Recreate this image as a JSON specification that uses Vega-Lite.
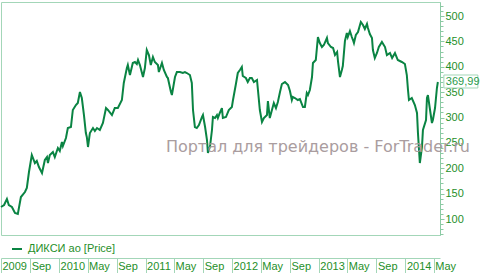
{
  "$schema": "https://vega.github.io/schema/vega-lite/v6.json",
  "width": 439,
  "height": 233,
  "autosize": {"type": "none"},
  "padding": {"left": 1, "top": 2, "right": 41, "bottom": 38},
  "background": "white",
  "config": {
    "view": {"stroke": "#a3d6b8", "strokeWidth": 1},
    "font": "Liberation Sans",
    "locale": {"number": {"decimal": ",", "thousands": " ", "grouping": [3], "currency": ["", " ₽"]}}
  },
  "datasets": {
    "prices": [
      {"date": "2009-05-01", "price": 123.6},
      {"date": "2009-05-14", "price": 127.6},
      {"date": "2009-05-26", "price": 139.4},
      {"date": "2009-06-03", "price": 127.6},
      {"date": "2009-06-16", "price": 123.6},
      {"date": "2009-06-29", "price": 111.8},
      {"date": "2009-07-11", "price": 109.9},
      {"date": "2009-07-24", "price": 143.3},
      {"date": "2009-08-10", "price": 153.2},
      {"date": "2009-08-18", "price": 161.1},
      {"date": "2009-08-27", "price": 192.6},
      {"date": "2009-09-08", "price": 226.1},
      {"date": "2009-09-21", "price": 210.3},
      {"date": "2009-09-29", "price": 214.3},
      {"date": "2009-10-08", "price": 202.5},
      {"date": "2009-10-21", "price": 190.6},
      {"date": "2009-11-02", "price": 216.3},
      {"date": "2009-11-11", "price": 222.2},
      {"date": "2009-11-15", "price": 210.3},
      {"date": "2009-11-23", "price": 226.1},
      {"date": "2009-12-06", "price": 232.0},
      {"date": "2009-12-14", "price": 222.2},
      {"date": "2009-12-27", "price": 239.9},
      {"date": "2010-01-04", "price": 234.0},
      {"date": "2010-01-13", "price": 251.7},
      {"date": "2010-01-17", "price": 243.8},
      {"date": "2010-01-30", "price": 259.6},
      {"date": "2010-02-07", "price": 279.3},
      {"date": "2010-02-20", "price": 281.3},
      {"date": "2010-02-28", "price": 314.8},
      {"date": "2010-03-13", "price": 324.6},
      {"date": "2010-03-21", "price": 328.6},
      {"date": "2010-03-30", "price": 350.2},
      {"date": "2010-04-07", "price": 338.4},
      {"date": "2010-04-16", "price": 304.9},
      {"date": "2010-04-24", "price": 269.5},
      {"date": "2010-04-28", "price": 261.6},
      {"date": "2010-05-03", "price": 241.9},
      {"date": "2010-05-11", "price": 269.5},
      {"date": "2010-05-24", "price": 279.3},
      {"date": "2010-06-01", "price": 273.4},
      {"date": "2010-06-10", "price": 279.3},
      {"date": "2010-06-22", "price": 275.4},
      {"date": "2010-07-05", "price": 289.2},
      {"date": "2010-07-18", "price": 318.7},
      {"date": "2010-07-26", "price": 314.8},
      {"date": "2010-08-12", "price": 304.9},
      {"date": "2010-08-24", "price": 318.7},
      {"date": "2010-09-06", "price": 318.7},
      {"date": "2010-09-23", "price": 334.5},
      {"date": "2010-10-01", "price": 368.0},
      {"date": "2010-10-14", "price": 397.5},
      {"date": "2010-10-18", "price": 403.4},
      {"date": "2010-10-27", "price": 383.7},
      {"date": "2010-11-08", "price": 407.4},
      {"date": "2010-11-17", "price": 409.4},
      {"date": "2010-11-25", "price": 405.4},
      {"date": "2010-11-30", "price": 413.3},
      {"date": "2010-12-08", "price": 403.4},
      {"date": "2010-12-21", "price": 379.8},
      {"date": "2010-12-29", "price": 397.5},
      {"date": "2011-01-06", "price": 433.0},
      {"date": "2011-01-15", "price": 423.1},
      {"date": "2011-01-23", "price": 403.4},
      {"date": "2011-02-01", "price": 419.2},
      {"date": "2011-02-09", "price": 409.4},
      {"date": "2011-02-22", "price": 403.4},
      {"date": "2011-02-26", "price": 389.6},
      {"date": "2011-03-11", "price": 407.4},
      {"date": "2011-03-19", "price": 393.6},
      {"date": "2011-04-01", "price": 379.8},
      {"date": "2011-04-05", "price": 377.8},
      {"date": "2011-04-18", "price": 350.2},
      {"date": "2011-04-22", "price": 344.3},
      {"date": "2011-05-05", "price": 379.8},
      {"date": "2011-05-13", "price": 389.6},
      {"date": "2011-05-26", "price": 389.6},
      {"date": "2011-06-07", "price": 387.7},
      {"date": "2011-06-16", "price": 389.6},
      {"date": "2011-06-24", "price": 387.7},
      {"date": "2011-07-07", "price": 383.7},
      {"date": "2011-07-15", "price": 368.0},
      {"date": "2011-07-20", "price": 314.8},
      {"date": "2011-07-28", "price": 281.3},
      {"date": "2011-08-05", "price": 279.3},
      {"date": "2011-08-14", "price": 285.2},
      {"date": "2011-08-27", "price": 301.0},
      {"date": "2011-08-31", "price": 304.9},
      {"date": "2011-09-09", "price": 281.3},
      {"date": "2011-09-17", "price": 255.7},
      {"date": "2011-09-21", "price": 230.0},
      {"date": "2011-09-30", "price": 243.8},
      {"date": "2011-10-08", "price": 275.4},
      {"date": "2011-10-12", "price": 301.0},
      {"date": "2011-10-21", "price": 299.0},
      {"date": "2011-10-29", "price": 304.9},
      {"date": "2011-11-02", "price": 299.0},
      {"date": "2011-11-10", "price": 308.9},
      {"date": "2011-11-19", "price": 318.7},
      {"date": "2011-11-23", "price": 299.0},
      {"date": "2011-12-06", "price": 301.0},
      {"date": "2011-12-18", "price": 314.8},
      {"date": "2011-12-31", "price": 320.7},
      {"date": "2012-01-04", "price": 332.5},
      {"date": "2012-01-17", "price": 366.0},
      {"date": "2012-01-25", "price": 387.7},
      {"date": "2012-02-03", "price": 393.6},
      {"date": "2012-02-11", "price": 399.5},
      {"date": "2012-02-15", "price": 381.8},
      {"date": "2012-02-28", "price": 377.8},
      {"date": "2012-03-07", "price": 369.9},
      {"date": "2012-03-16", "price": 377.8},
      {"date": "2012-03-24", "price": 377.8},
      {"date": "2012-04-02", "price": 369.9},
      {"date": "2012-04-15", "price": 373.9},
      {"date": "2012-04-19", "price": 354.2},
      {"date": "2012-04-27", "price": 314.8},
      {"date": "2012-05-06", "price": 291.1},
      {"date": "2012-05-14", "price": 299.0},
      {"date": "2012-05-27", "price": 304.9},
      {"date": "2012-05-31", "price": 332.5},
      {"date": "2012-06-08", "price": 299.0},
      {"date": "2012-06-17", "price": 314.8},
      {"date": "2012-06-25", "price": 328.6},
      {"date": "2012-07-04", "price": 318.7},
      {"date": "2012-07-12", "price": 330.5},
      {"date": "2012-07-21", "price": 350.2},
      {"date": "2012-07-29", "price": 366.0},
      {"date": "2012-08-11", "price": 369.9},
      {"date": "2012-08-24", "price": 364.0},
      {"date": "2012-09-01", "price": 352.2},
      {"date": "2012-09-09", "price": 334.5},
      {"date": "2012-09-13", "price": 340.4},
      {"date": "2012-09-22", "price": 338.4},
      {"date": "2012-10-04", "price": 334.5},
      {"date": "2012-10-13", "price": 336.4},
      {"date": "2012-10-26", "price": 320.7},
      {"date": "2012-11-03", "price": 320.7},
      {"date": "2012-11-11", "price": 348.3},
      {"date": "2012-11-16", "price": 344.3},
      {"date": "2012-11-24", "price": 354.2},
      {"date": "2012-12-03", "price": 379.8},
      {"date": "2012-12-07", "price": 407.4},
      {"date": "2012-12-19", "price": 413.3},
      {"date": "2012-12-28", "price": 458.6},
      {"date": "2013-01-05", "price": 446.8},
      {"date": "2013-01-14", "price": 438.9},
      {"date": "2013-01-22", "price": 442.8},
      {"date": "2013-02-04", "price": 456.7},
      {"date": "2013-02-08", "price": 446.8},
      {"date": "2013-02-21", "price": 438.9},
      {"date": "2013-03-02", "price": 436.9},
      {"date": "2013-03-10", "price": 423.1},
      {"date": "2013-03-19", "price": 429.1},
      {"date": "2013-03-23", "price": 409.4},
      {"date": "2013-03-31", "price": 379.8},
      {"date": "2013-04-08", "price": 393.6},
      {"date": "2013-04-12", "price": 401.5},
      {"date": "2013-04-21", "price": 450.7},
      {"date": "2013-04-29", "price": 466.5},
      {"date": "2013-05-03", "price": 458.6},
      {"date": "2013-05-12", "price": 470.4},
      {"date": "2013-05-20", "price": 458.6},
      {"date": "2013-05-25", "price": 452.7},
      {"date": "2013-05-29", "price": 446.8},
      {"date": "2013-06-06", "price": 462.6},
      {"date": "2013-06-15", "price": 468.5},
      {"date": "2013-06-27", "price": 488.2},
      {"date": "2013-07-06", "price": 482.3},
      {"date": "2013-07-14", "price": 474.4},
      {"date": "2013-07-23", "price": 484.2},
      {"date": "2013-07-27", "price": 476.4},
      {"date": "2013-08-04", "price": 464.5},
      {"date": "2013-08-13", "price": 456.7},
      {"date": "2013-08-17", "price": 433.0},
      {"date": "2013-08-25", "price": 417.2},
      {"date": "2013-09-03", "price": 427.1},
      {"date": "2013-09-11", "price": 438.9},
      {"date": "2013-09-24", "price": 448.8},
      {"date": "2013-10-07", "price": 438.9},
      {"date": "2013-10-15", "price": 423.1},
      {"date": "2013-10-28", "price": 427.1},
      {"date": "2013-11-06", "price": 417.2},
      {"date": "2013-11-18", "price": 427.1},
      {"date": "2013-11-30", "price": 413.3},
      {"date": "2013-12-17", "price": 409.4},
      {"date": "2013-12-30", "price": 405.4},
      {"date": "2014-01-07", "price": 383.7},
      {"date": "2014-01-12", "price": 354.2},
      {"date": "2014-01-16", "price": 334.5},
      {"date": "2014-01-28", "price": 338.4},
      {"date": "2014-02-10", "price": 324.6},
      {"date": "2014-02-19", "price": 308.9},
      {"date": "2014-02-23", "price": 269.5},
      {"date": "2014-03-03", "price": 210.3},
      {"date": "2014-03-12", "price": 241.9},
      {"date": "2014-03-16", "price": 275.4},
      {"date": "2014-03-29", "price": 295.1},
      {"date": "2014-04-02", "price": 338.4},
      {"date": "2014-04-06", "price": 344.3},
      {"date": "2014-04-15", "price": 314.8},
      {"date": "2014-04-23", "price": 289.2},
      {"date": "2014-04-27", "price": 295.1},
      {"date": "2014-05-06", "price": 318.7},
      {"date": "2014-05-14", "price": 358.1},
      {"date": "2014-05-18", "price": 369.99}
    ]
  },
  "data": {"name": "prices"},
  "encoding": {
    "x": {
      "field": "date",
      "type": "temporal",
      "title": null,
      "scale": {"domain": [{"year": 2009, "month": 5, "date": 1}, {"year": 2014, "month": 5, "date": 27}], "nice": false},
      "axis": {
        "orient": "bottom",
        "offset": 23,
        "values": [
          {"year": 2009, "month": 5, "date": 1}, {"year": 2009, "month": 9, "date": 1},
          {"year": 2010, "month": 1, "date": 1}, {"year": 2010, "month": 5, "date": 1}, {"year": 2010, "month": 9, "date": 1},
          {"year": 2011, "month": 1, "date": 1}, {"year": 2011, "month": 5, "date": 1}, {"year": 2011, "month": 9, "date": 1},
          {"year": 2012, "month": 1, "date": 1}, {"year": 2012, "month": 5, "date": 1}, {"year": 2012, "month": 9, "date": 1},
          {"year": 2013, "month": 1, "date": 1}, {"year": 2013, "month": 5, "date": 1}, {"year": 2013, "month": 9, "date": 1},
          {"year": 2014, "month": 1, "date": 1}, {"year": 2014, "month": 5, "date": 1}
        ],
        "labelExpr": "month(datum.value) === 0 || datum.value < datetime(2009, 4, 5) ? timeFormat(datum.value, '%Y') : timeFormat(datum.value, '%b')",
        "labelAlign": "left",
        "labelBaseline": "top",
        "labelPadding": -13,
        "labelOffset": 1,
        "labelFont": "Liberation Sans",
        "labelFontSize": 11,
        "labelColor": "#1f8f2a",
        "labelOverlap": false,
        "labelFlush": false,
        "tickSize": 15,
        "tickColor": "#a3d6b8",
        "domainColor": "#a3d6b8",
        "grid": false
      }
    },
    "y": {
      "field": "price",
      "type": "quantitative",
      "title": null,
      "scale": {"domain": [68.5, 527.6], "nice": false, "zero": false},
      "axis": {
        "orient": "right",
        "values": [70, 80, 90, 100, 110, 120, 130, 140, 150, 160, 170, 180, 190, 200, 210, 220, 230, 240, 250, 260, 270, 280, 290, 300, 310, 320, 330, 340, 350, 360, 370, 380, 390, 400, 410, 420, 430, 440, 450, 460, 470, 480, 490, 500, 510, 520],
        "labelExpr": "datum.value % 50 === 0 ? format(datum.value, 'd') : ''",
        "labelFont": "Liberation Sans",
        "labelFontSize": 11,
        "labelColor": "#1f8f2a",
        "labelPadding": 1,
        "labelOverlap": false,
        "tickSize": {"condition": {"test": "datum.value % 50 === 0", "value": 4}, "value": 3},
        "tickColor": "#8ccaa4",
        "domainColor": "#8ccaa4",
        "grid": false
      }
    }
  },
  "layer": [
    {
      "mark": {"type": "line", "strokeWidth": 2, "interpolate": "linear"},
      "encoding": {
        "color": {
          "datum": "ДИКСИ ао [Price]",
          "type": "nominal",
          "scale": {"range": ["#0a8443"]},
          "legend": {
            "orient": "none",
            "legendX": 10,
            "legendY": 241,
            "title": null,
            "padding": 0,
            "symbolType": "stroke",
            "symbolSize": 100,
            "symbolStrokeWidth": 2,
            "labelFont": "Liberation Sans",
            "labelFontSize": 11,
            "labelColor": "#1f8f2a",
            "labelOffset": 5
          }
        }
      }
    },
    {
      "transform": [{"filter": "datum.price === 369.99"}],
      "mark": {"type": "text", "text": "Портал для трейдеров - ForTrader.ru", "font": "DejaVu Sans", "fontSize": 16, "color": "#a6989a", "align": "center", "baseline": "middle", "opacity": 0.95},
      "encoding": {
        "x": {"datum": {"year": 2012, "month": 12, "date": 28}, "type": "temporal"},
        "y": {"datum": 242, "type": "quantitative"}
      }
    },
    {
      "transform": [{"filter": "datum.price === 369.99"}],
      "mark": {"type": "rect", "fill": "white", "stroke": "#a3d6b8", "strokeWidth": 1, "xOffset": 6, "x2Offset": 40, "yOffset": -7, "y2Offset": 6},
      "encoding": {
        "x2": {"field": "date"},
        "y2": {"field": "price"}
      }
    },
    {
      "transform": [{"filter": "datum.price === 369.99"}],
      "mark": {"type": "text", "align": "left", "baseline": "middle", "dx": 8, "font": "Liberation Sans", "fontSize": 11, "color": "#2a9a4a"},
      "encoding": {
        "text": {"field": "price", "type": "quantitative", "format": ".2f"}
      }
    }
  ]
}
